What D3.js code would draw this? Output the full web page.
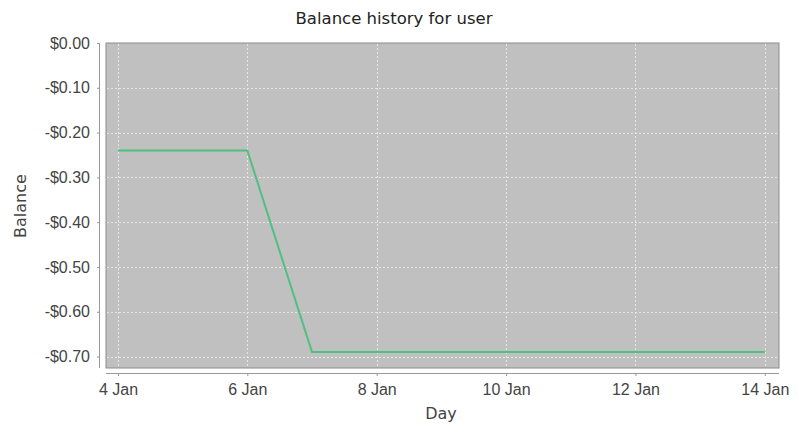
<!DOCTYPE html>
<html>
<head>
<meta charset="utf-8">
<script src="https://cdn.jsdelivr.net/npm/d3@7"></script>
<style>
  body { margin:0; background:#fff; }
  svg { font-family: "DejaVu Sans", sans-serif; }
</style>
</head>
<body>
<svg id="chart" width="799" height="433"></svg>
<script>
// ==================== DATA ====================
const days = [4, 5, 6, 7, 8, 9, 10, 11, 12, 13, 14];
const balances = [-0.24, -0.24, -0.24, -0.69, -0.69, -0.69, -0.69, -0.69, -0.69, -0.69, -0.69];
const xTicks = [4, 6, 8, 10, 12, 14];
const yTicks = [0, -0.1, -0.2, -0.3, -0.4, -0.5, -0.6, -0.7];

// ==================== LAYOUT ====================
const svg = d3.select("#chart");
const plot = { left:106, top:43, right:779, bottom:368 };

const x = d3.scaleLinear().domain([3.815, 14.22]).range([plot.left, plot.right]);
const y = d3.scaleLinear().domain([0, -0.7255]).range([plot.top, plot.bottom]);

// plot background
svg.append("rect")
    .attr("x", plot.left).attr("y", plot.top)
    .attr("width", plot.right-plot.left).attr("height", plot.bottom-plot.top)
    .attr("fill", "#c0c0c0").attr("stroke", "#8c8c8c").attr("stroke-width", 1);

// gridlines
const grid = svg.append("g").attr("stroke", "#e6e6e6").attr("stroke-width", 1).attr("stroke-dasharray", "2,2");
grid.selectAll(".gx").data(xTicks).join("line")
    .attr("x1", d=>Math.round(x(d))+0.5).attr("x2", d=>Math.round(x(d))+0.5)
    .attr("y1", plot.top+1).attr("y2", plot.bottom);
grid.selectAll(".gy").data(yTicks.slice(1)).join("line")
    .attr("y1", d=>Math.round(y(d))+0.5).attr("y2", d=>Math.round(y(d))+0.5)
    .attr("x1", plot.left+1).attr("x2", plot.right);

// line
const line = d3.line().x((d,i)=>x(days[i])).y(d=>y(d));
svg.append("path")
    .datum(balances)
    .attr("fill", "none")
    .attr("stroke", "#4fbf82")
    .attr("stroke-width", 2)
    .attr("d", line);

// ==================== AXES ====================
const months = ["Jan"];
const xAxis = d3.axisBottom(x).tickValues(xTicks).tickSize(3).tickPadding(8)
    .tickFormat(d => d + " " + months[0]);
const gx = svg.append("g").attr("transform", "translate(0,373)").call(xAxis);
gx.select(".domain").attr("d", `M${plot.left},0.5H${plot.right}`).attr("stroke", "#999");
gx.selectAll(".tick line").attr("stroke", "#999");
gx.selectAll("text").attr("fill", "#444").style("font-size", "16px");

const yFmt = d => (d < 0 ? "-" : "") + "$" + Math.abs(d).toFixed(2);
const yAxis = d3.axisLeft(y).tickValues(yTicks).tickSize(3).tickPadding(7).tickFormat(yFmt);
const gy = svg.append("g").attr("transform", "translate(100,0)").call(yAxis);
gy.select(".domain").attr("d", `M-0.5,${plot.top}V${plot.bottom}`).attr("stroke", "#999");
gy.selectAll(".tick line").attr("stroke", "#999");
gy.selectAll("text").attr("fill", "#444").style("font-size", "16px");

// ==================== TITLES ====================
svg.append("text").attr("x", 394).attr("y", 24).attr("text-anchor", "middle")
    .attr("fill", "#222").style("font-size", "16.5px").text("Balance history for user");
svg.append("text").attr("x", 441).attr("y", 419).attr("text-anchor", "middle")
    .attr("fill", "#444").style("font-size", "16px").text("Day");
svg.append("text").attr("transform", "translate(26,206) rotate(-90)").attr("text-anchor", "middle")
    .attr("fill", "#444").style("font-size", "16px").text("Balance");
</script>
</body>
</html>
